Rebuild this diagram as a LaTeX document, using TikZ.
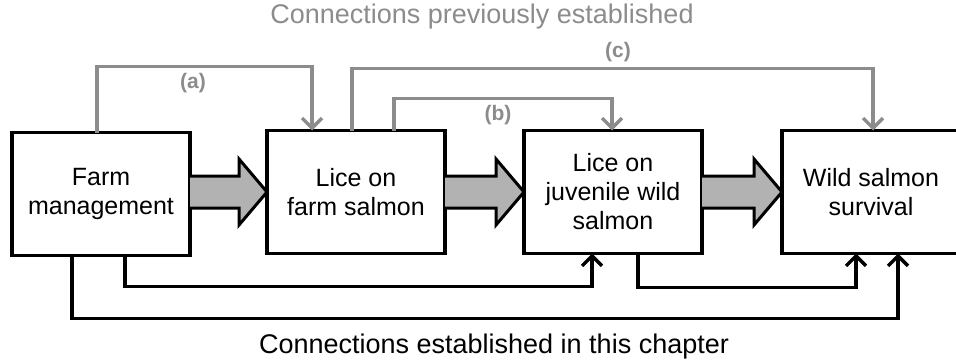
\documentclass[tikz,border=0pt]{standalone}
\usepackage{fontspec}
\setmainfont{Liberation Sans}
\usepackage{xcolor}
\usetikzlibrary{positioning, calc, arrows.meta}
\definecolor{prevgray}{RGB}{140,140,140}
\definecolor{fatgray}{RGB}{178,178,178}
\newcommand{\fatarrow}[2]{%
\filldraw[fatarrow] ($(#1.east |- #2.west)+(0,-16)$) -- ($(#2.west)+(-28,-16)$) -- ++(0,-17) -- (#2.west) -- ++(-28,33) -- ++(0,-17) -- ($(#1.east |- #2.west)+(0,16)$);}

\begin{document}
\begin{tikzpicture}[x=1pt, y=-1pt,
  stage/.style={draw, line width=3.5pt, fill=white, minimum width=178pt, minimum height=123pt, inner sep=0pt, outer sep=0pt, align=center, font=\fontsize{25}{29}\selectfont},
  prevline/.style={draw=prevgray, line width=3.5pt, line join=miter, -{Straight Barb[length=10pt,width=20pt]}},
  newline/.style={draw=black, line width=3.5pt, line join=miter, -{Straight Barb[length=10pt,width=20pt]}},
  fatarrow/.style={fill=fatgray, draw=black, line width=3pt, line join=miter},
  tag/.style={text=prevgray, font=\fontsize{21}{24}\bfseries\selectfont}]
\useasboundingbox (0,0) rectangle (956,364);
% the four stages
\node[stage] (farm) at (101,194) {Farm\\management};
\node[stage, right=77pt of farm.east, anchor=west, yshift=2pt] (licefarm) {Lice on\\farm salmon};
\node[stage, right=79pt of licefarm] (juvenile) {Lice on\\juvenile wild\\salmon};
\node[stage, right=80pt of juvenile] (wild) {Wild salmon\\survival};
% main chain
\fatarrow{farm}{licefarm}
\fatarrow{licefarm}{juvenile}
\fatarrow{juvenile}{wild}
% connections previously established
\node[text=prevgray, font=\fontsize{27}{31}\selectfont] (prevtitle) at (482,17) {Connections previously established};
\draw[prevline] ([xshift=-4pt]farm.north) -- ++(0,-66) -| ([xshift=-44pt]licefarm.north);
\draw[prevline] ([xshift=-4pt]licefarm.north) -- ++(0,-62) -| ([xshift=2pt]wild.north);
\draw[prevline] ([xshift=38pt]licefarm.north) -- ++(0,-32) -| ([xshift=-1pt]juvenile.north);
\node[tag] (taga) at (193,83) {(a)};
\node[tag] (tagb) at (498,115) {(b)};
\node[tag] (tagc) at (618,52) {(c)};
% connections established in this chapter
\draw[newline] ([xshift=24pt]farm.south) -- ++(0,31) -| ([xshift=-21pt]juvenile.south);
\draw[newline] ([xshift=-29pt]farm.south) -- ++(0,63) -| ([xshift=27pt]wild.south);
\draw[newline] ([xshift=25pt]juvenile.south) -- ++(0,34) -| ([xshift=-15pt]wild.south);
\node[font=\fontsize{27}{31}\selectfont] (newtitle) at (494,347) {Connections established in this chapter};
\end{tikzpicture}
\end{document}
